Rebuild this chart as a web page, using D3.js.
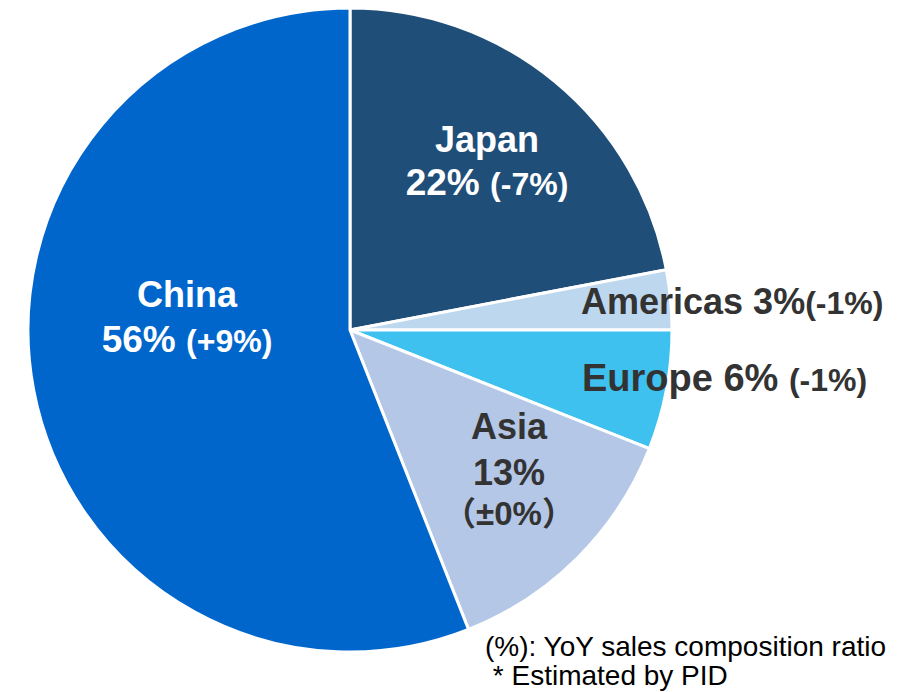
<!DOCTYPE html>
<html>
<head>
<meta charset="utf-8">
<script src="https://cdn.jsdelivr.net/npm/d3@7"></script>
<style>
  body { margin: 0; background: #fff; }
  svg text { font-family: "Liberation Sans", Arial, "Noto Sans CJK JP", sans-serif; }
</style>
</head>
<body>
<svg id="chart" width="901" height="692"></svg>
<script>
// regions in clockwise order from 12 o'clock
var regions = ["Japan", "Americas", "Europe", "Asia", "China"];
var shares  = [22, 3, 6, 13, 56];
var yoy     = ["(-7%)", "(-1%)", "(-1%)", "\uFF08\u00B10%\uFF09", "(+9%)"];
var colors  = ["#1f4e79", "#bdd7ee", "#3fc1f0", "#b4c7e7", "#0066cc"];
var notes   = ["(%): YoY sales composition ratio", " * Estimated by PID"];

var svg = d3.select("#chart"),
  cx = 350, cy = 330, radius = 322;

var pie = d3.pie().sort(null).value(function(d) { return d; });
var arc = d3.arc().innerRadius(0).outerRadius(radius);

var g = svg.append("g").attr("transform", "translate(" + cx + "," + cy + ")");

g.selectAll("path")
  .data(pie(shares))
  .enter().append("path")
  .attr("d", arc)
  .attr("fill", function(d, i) { return colors[i]; })
  .attr("stroke", "#fff")
  .attr("stroke-width", 3);

// label layout (absolute page positions)
var labelPos = {
  Japan:    { x: 487, y: [152, 195], anchor: "middle", fill: "#fff", big: 36 },
  Americas: { x: 581, y: [314], anchor: "start", fill: "#333", big: 36 },
  Europe:   { x: 582, y: [391], anchor: "start", fill: "#333", big: 38 },
  Asia:     { x: 509, y: [439, 485, 525], anchor: "middle", fill: "#333", big: 36 },
  China:    { x: 187, y: [307, 352], anchor: "middle", fill: "#fff", big: 36 }
};

regions.forEach(function(name, i) {
  var p = labelPos[name];
  var t = svg.append("text")
    .attr("text-anchor", p.anchor)
    .attr("font-weight", "bold")
    .attr("fill", p.fill);
  var pct = shares[i] + "%";
  if (p.y.length == 1) {
    t.attr("x", p.x).attr("y", p.y[0]);
    t.append("tspan").attr("font-size", p.big).text(name + " " + pct + (name == "Europe" ? " " : ""));
    t.append("tspan").attr("font-size", 32).text(yoy[i]);
  } else if (p.y.length == 2) {
    t.append("tspan").attr("x", p.x).attr("y", p.y[0]).attr("font-size", p.big).text(name);
    var l2 = t.append("tspan").attr("x", p.x).attr("y", p.y[1]);
    l2.append("tspan").attr("font-size", 37).text(pct + " ");
    l2.append("tspan").attr("font-size", 32).text(yoy[i]);
  } else {
    t.append("tspan").attr("x", p.x).attr("y", p.y[0]).attr("font-size", p.big).text(name);
    t.append("tspan").attr("x", p.x).attr("y", p.y[1]).attr("font-size", p.big).text(pct);
    t.append("tspan").attr("x", p.x).attr("y", p.y[2]).attr("font-size", 33).text(yoy[i]);
  }
});

svg.selectAll(".note")
  .data(notes)
  .enter().append("text")
  .attr("class", "note")
  .attr("x", 485)
  .attr("y", function(d, i) { return 656 + i * 29; })
  .attr("font-size", 28)
  .attr("fill", "#000")
  .style("white-space", "pre")
  .text(function(d) { return d; });
</script>
</body>
</html>
